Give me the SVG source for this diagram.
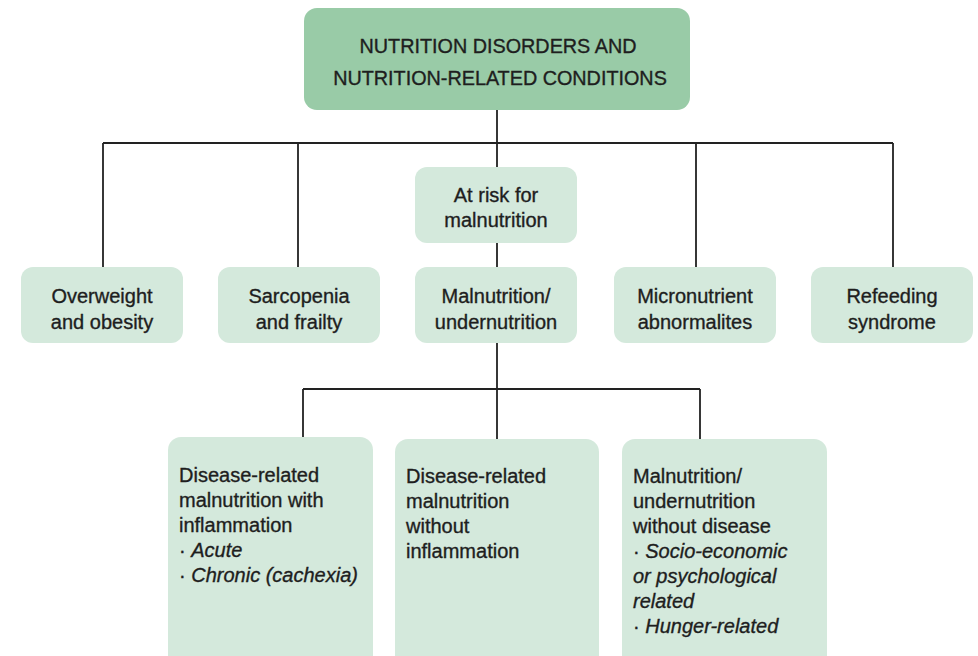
<svg xmlns="http://www.w3.org/2000/svg" width="978" height="656" viewBox="0 0 978 656">
<style>
.top{fill:#99cba7}
.box{fill:#d4e9dc}
text{font-family:"Liberation Sans",Arial,sans-serif;fill:#1e1e1e;stroke:#1e1e1e;stroke-width:0.35;font-size:20px}
.c{text-anchor:middle}
.h{font-size:19.8px}
.i{font-style:italic}
.ln{stroke:#222;stroke-width:1.8;fill:none}
</style>
<rect width="978" height="656" fill="#fff"/>
<g id="connectors">
<path class="ln" d="M497 110V268M103 143H893M103 143V268M298 143V268M696 143V268M893 143V268"/>
<path class="ln" d="M497 343V439M303 389H700M303 389V437M700 389V439"/>
</g>
<g id="root">
<rect class="top" x="304" y="8" width="386" height="102" rx="13"/>
<text class="c h" x="498" y="53">NUTRITION DISORDERS AND</text>
<text class="c h" x="500" y="85">NUTRITION-RELATED CONDITIONS</text>
</g>
<g id="atrisk">
<rect class="box" x="415" y="167" width="162" height="76" rx="12"/>
<text class="c" x="496" y="202">At risk for</text>
<text class="c" x="496" y="227">malnutrition</text>
</g>
<g id="overweight">
<rect class="box" x="21" y="267" width="162" height="76" rx="12"/>
<text class="c" x="102" y="303">Overweight</text>
<text class="c" x="102" y="329">and obesity</text>
</g>
<g id="sarcopenia">
<rect class="box" x="218" y="267" width="162" height="76" rx="12"/>
<text class="c" x="299" y="303">Sarcopenia</text>
<text class="c" x="299" y="329">and frailty</text>
</g>
<g id="malnutrition">
<rect class="box" x="415" y="267" width="162" height="76" rx="12"/>
<text class="c" x="496" y="303">Malnutrition/</text>
<text class="c" x="496" y="329">undernutrition</text>
</g>
<g id="micronutrient">
<rect class="box" x="614" y="267" width="162" height="76" rx="12"/>
<text class="c" x="695" y="303">Micronutrient</text>
<text class="c" x="695" y="329">abnormalites</text>
</g>
<g id="refeeding">
<rect class="box" x="811" y="267" width="162" height="76" rx="12"/>
<text class="c" x="892" y="303">Refeeding</text>
<text class="c" x="892" y="329">syndrome</text>
</g>
<g id="drm-inflammation">
<rect class="box" x="168" y="437" width="205" height="240" rx="13"/>
<text x="179" y="482">Disease-related</text>
<text x="179" y="507">malnutrition with</text>
<text x="179" y="532">inflammation</text>
<text x="179" y="557">· <tspan class="i">Acute</tspan></text>
<text x="179" y="582">· <tspan class="i">Chronic (cachexia)</tspan></text>
</g>
<g id="drm-no-inflammation">
<rect class="box" x="395" y="439" width="204" height="240" rx="13"/>
<text x="406" y="483">Disease-related</text>
<text x="406" y="508">malnutrition</text>
<text x="406" y="533">without</text>
<text x="406" y="558">inflammation</text>
</g>
<g id="no-disease">
<rect class="box" x="622" y="439" width="205" height="240" rx="13"/>
<text x="633" y="483">Malnutrition/</text>
<text x="633" y="508">undernutrition</text>
<text x="633" y="533">without disease</text>
<text x="633" y="558">· <tspan class="i">Socio-economic</tspan></text>
<text x="633" y="583" class="i">or psychological</text>
<text x="633" y="608" class="i">related</text>
<text x="633" y="633">· <tspan class="i">Hunger-related</tspan></text>
</g>
</svg>
